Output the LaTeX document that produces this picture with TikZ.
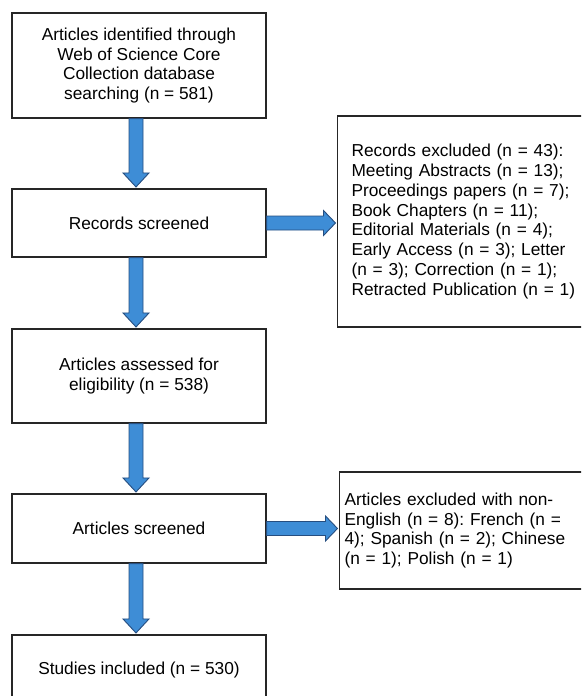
\documentclass[tikz,border=0pt]{standalone}
\usepackage{fontspec}
\setmainfont{Liberation Sans}
\usepackage{xcolor}
\usepackage{tikz}
\usetikzlibrary{calc}
\frenchspacing
\definecolor{arrowblue}{RGB}{62,141,214}
\definecolor{arrowedge}{RGB}{38,78,128}
\tikzset{
	box/.style={draw=black!85, line width=1.1pt, fill=white, minimum width=254pt, align=center, inner sep=0pt, font=\fontsize{17.3}{19.8}\selectfont},
	sidebox/.style={draw=black!85, line width=1.1pt, fill=white, align=left, anchor=west, inner ysep=0pt, font=\fontsize{17.3}{19.8}\selectfont},
	blockarrow/.style={fill=arrowblue, draw=arrowedge, line width=0.9pt, line join=miter}
}
\newcommand{\downblock}[2]{%
	\coordinate (s) at ($(#1.south)+(-3,0)$);
	\coordinate (t) at ($(#2.north)+(-3,1.5)$);
	\filldraw[blockarrow] ($(s)+(-7,0)$) -- ($(t)+(-7,14)$) -- ($(t)+(-13,14)$) -- (t) -- ($(t)+(13,14)$) -- ($(t)+(7,14)$) -- ($(s)+(7,0)$) -- cycle;
}
\newcommand{\rightblock}[2]{%
	\coordinate (s) at (#1.east);
	\coordinate (t) at ($(s -| #2.west)+(-1.5,0)$);
	\filldraw[blockarrow] ($(s)+(0,7)$) -- ($(t)+(-12,7)$) -- ($(t)+(-12,12.5)$) -- (t) -- ($(t)+(-12,-12.5)$) -- ($(t)+(-12,-7)$) -- ($(s)+(0,-7)$) -- cycle;
}

\begin{document}
\begin{tikzpicture}[x=1pt, y=1pt]
	\useasboundingbox (0,0) rectangle (581,-696);
	\clip (0,0) rectangle (581,-696);
	
	\node[box, minimum height=105pt] (search) at (139,-65.5) {Articles identified through\\Web of Science Core\\Collection database\\searching (n = 581)};
	\node[box, minimum height=68pt] (screen) at (139,-223) {Records screened};
	\node[box, minimum height=94pt] (assess) at (139,-376) {Articles assessed for\\eligibility (n = 538)};
	\node[box, minimum height=69pt] (artscreen) at (139,-528.5) {Articles screened};
	\node[box, minimum height=70pt] (included) at (139,-670) {Studies included (n = 530)};
	
	\node[sidebox, minimum height=211pt, text width=230pt, inner xsep=14pt] (recexcl) at (337,-221.5) {Records excluded (n = 43):\\Meeting Abstracts (n = 13);\\Proceedings papers (n = 7);\\Book Chapters (n = 11);\\Editorial Materials (n = 4);\\Early Access (n = 3); Letter\\(n = 3); Correction (n = 1);\\Retracted Publication (n = 1)};
	\node[sidebox, minimum height=117pt, text width=240pt, inner xsep=5pt] (langexcl) at (339,-530.5) {Articles excluded with non-\\English (n = 8): French (n =\\4); Spanish (n = 2); Chinese\\(n = 1); Polish (n = 1)};
	
	\downblock{search}{screen}
	\downblock{screen}{assess}
	\downblock{assess}{artscreen}
	\downblock{artscreen}{included}
	\rightblock{screen}{recexcl}
	\rightblock{artscreen}{langexcl}
\end{tikzpicture}
\end{document}
